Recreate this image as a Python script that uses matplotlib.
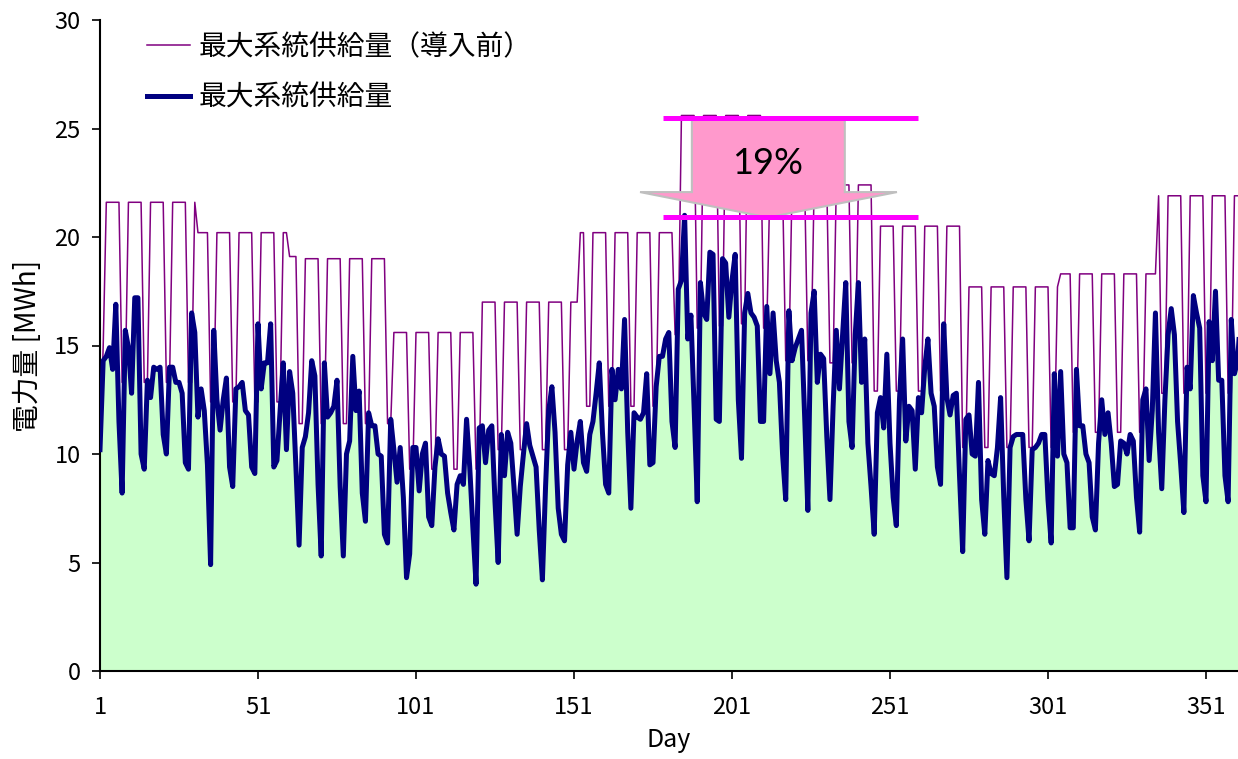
import numpy as np
import matplotlib
matplotlib.use("Agg")
import matplotlib.pyplot as plt
from matplotlib.lines import Line2D
from matplotlib.patches import Polygon

plt.rcParams['font.family'] = ['Noto Sans CJK JP', 'DejaVu Sans']

# Daily values, day 1 .. 362 (MWh)
days = np.arange(1, 363)

# max system supply before introduction (weekday plateau / weekend low)
supply_before = [
    10.3, 14.9, 21.6, 21.6, 21.6, 21.6, 21.6, 13.3, 13.3, 21.6,
    21.6, 21.6, 21.6, 21.6, 13.3, 13.3, 21.6, 21.6, 21.6, 21.6,
    21.6, 13.3, 13.3, 21.6, 21.6, 21.6, 21.6, 21.6, 13.3, 13.3,
    21.6, 20.2, 20.2, 20.2, 20.2, 12.4, 12.4, 20.2, 20.2, 20.2,
    20.2, 20.2, 12.4, 12.4, 20.2, 20.2, 20.2, 20.2, 20.2, 12.4,
    12.4, 20.2, 20.2, 20.2, 20.2, 20.2, 12.4, 12.4, 20.2, 20.2,
    19.1, 19.1, 19.1, 11.4, 11.4, 19.0, 19.0, 19.0, 19.0, 19.0,
    11.4, 11.4, 19.0, 19.0, 19.0, 19.0, 19.0, 11.4, 11.4, 19.0,
    19.0, 19.0, 19.0, 19.0, 11.4, 11.4, 19.0, 19.0, 19.0, 19.0,
    19.0, 11.4, 11.4, 15.6, 15.6, 15.6, 15.6, 15.6, 9.3, 9.3,
    15.6, 15.6, 15.6, 15.6, 15.6, 9.3, 9.3, 15.6, 15.6, 15.6,
    15.6, 15.6, 9.3, 9.3, 15.6, 15.6, 15.6, 15.6, 15.6, 9.3,
    9.3, 17.0, 17.0, 17.0, 17.0, 17.0, 10.2, 10.2, 17.0, 17.0,
    17.0, 17.0, 17.0, 10.2, 10.2, 17.0, 17.0, 17.0, 17.0, 17.0,
    10.2, 10.2, 17.0, 17.0, 17.0, 17.0, 17.0, 10.2, 10.2, 17.0,
    17.0, 17.0, 20.2, 20.2, 12.2, 12.2, 20.2, 20.2, 20.2, 20.2,
    20.2, 12.2, 12.2, 20.2, 20.2, 20.2, 20.2, 20.2, 12.2, 12.2,
    20.2, 20.2, 20.2, 20.2, 20.2, 12.2, 12.2, 20.2, 20.2, 20.2,
    20.2, 20.2, 15.5, 15.5, 25.6, 25.6, 25.6, 25.6, 25.6, 15.8,
    15.8, 25.6, 25.6, 25.6, 25.6, 25.6, 15.9, 15.9, 25.6, 25.6,
    25.6, 25.6, 25.6, 16.0, 16.0, 25.6, 25.6, 25.6, 25.6, 25.6,
    15.8, 15.8, 22.4, 22.4, 22.4, 22.4, 22.4, 14.3, 14.3, 22.4,
    22.4, 22.4, 22.4, 22.4, 14.3, 14.3, 22.4, 22.4, 22.4, 22.4,
    22.4, 14.2, 14.2, 22.4, 22.4, 22.4, 22.4, 22.4, 14.2, 14.2,
    22.4, 22.4, 22.4, 22.4, 22.4, 12.9, 12.9, 20.5, 20.5, 20.5,
    20.5, 20.5, 12.9, 12.9, 20.5, 20.5, 20.5, 20.5, 20.5, 12.9,
    12.9, 20.5, 20.5, 20.5, 20.5, 20.5, 12.9, 12.9, 20.5, 20.5,
    20.5, 20.5, 20.5, 10.3, 10.3, 17.7, 17.7, 17.7, 17.7, 17.7,
    10.3, 10.3, 17.7, 17.7, 17.7, 17.7, 17.7, 10.3, 10.3, 17.7,
    17.7, 17.7, 17.7, 17.7, 10.3, 10.3, 17.7, 17.7, 17.7, 17.7,
    17.7, 10.3, 10.3, 17.7, 18.3, 18.3, 18.3, 18.3, 11.0, 11.0,
    18.3, 18.3, 18.3, 18.3, 18.3, 11.0, 11.0, 18.3, 18.3, 18.3,
    18.3, 18.3, 11.0, 11.0, 18.3, 18.3, 18.3, 18.3, 18.3, 11.0,
    11.0, 18.3, 18.3, 18.3, 18.3, 21.9, 12.8, 12.8, 21.9, 21.9,
    21.9, 21.9, 21.9, 12.8, 12.8, 21.9, 21.9, 21.9, 21.9, 21.9,
    12.8, 12.8, 21.9, 21.9, 21.9, 21.9, 21.9, 12.8, 12.8, 21.9,
    21.9, 21.9,
]

# max system supply after introduction
supply_after = [
    10.2, 14.3, 14.5, 14.9, 13.9, 16.9, 11.5, 8.2, 15.7, 14.9,
    12.8, 17.2, 17.2, 10.0, 9.3, 13.4, 12.6, 14.0, 13.9, 14.0,
    10.9, 10.0, 14.0, 14.0, 13.3, 13.3, 12.8, 9.6, 9.3, 16.5,
    15.6, 11.7, 13.0, 12.0, 9.5, 4.9, 15.7, 12.5, 11.1, 12.5,
    13.5, 9.4, 8.5, 13.0, 13.1, 13.3, 12.0, 11.8, 9.4, 9.1,
    16.0, 13.0, 14.2, 14.2, 16.0, 9.4, 9.7, 12.0, 14.2, 10.2,
    13.8, 12.8, 9.4, 5.8, 10.3, 10.8, 11.9, 14.3, 13.6, 8.6,
    5.3, 14.2, 11.7, 11.9, 12.2, 13.4, 8.5, 5.3, 10.0, 10.6,
    14.5, 12.0, 12.9, 8.2, 6.9, 11.9, 11.3, 11.3, 10.0, 9.9,
    6.3, 5.9, 11.6, 10.2, 8.7, 10.3, 8.0, 4.3, 5.4, 10.3,
    10.3, 8.3, 10.0, 10.5, 7.1, 6.7, 9.4, 10.7, 10.0, 9.9,
    8.2, 7.3, 6.5, 8.6, 9.0, 8.6, 11.6, 9.4, 6.6, 4.0,
    11.2, 11.3, 9.6, 11.1, 11.3, 7.8, 5.0, 10.9, 9.0, 11.0,
    10.5, 8.5, 6.3, 8.5, 10.0, 11.4, 10.4, 9.9, 9.4, 6.5,
    4.2, 8.5, 12.0, 13.1, 11.0, 7.5, 6.3, 6.0, 9.5, 11.0,
    9.3, 10.6, 11.5, 9.6, 9.2, 10.9, 11.5, 12.8, 14.2, 11.0,
    8.6, 8.2, 13.9, 12.5, 13.9, 13.0, 16.2, 11.0, 7.5, 11.9,
    11.7, 11.6, 11.9, 13.7, 9.5, 9.6, 13.1, 14.5, 14.5, 15.3,
    15.6, 11.5, 10.3, 17.6, 18.0, 21.0, 15.3, 16.4, 12.2, 7.8,
    17.9, 16.5, 16.2, 19.3, 19.2, 11.6, 11.5, 19.0, 18.8, 16.3,
    18.0, 19.2, 12.5, 9.8, 16.5, 17.4, 16.5, 16.3, 15.9, 11.5,
    11.5, 16.8, 13.7, 16.5, 14.3, 13.3, 10.0, 7.9, 16.6, 14.3,
    14.9, 15.3, 15.7, 11.7, 7.4, 16.5, 17.5, 13.3, 14.6, 14.4,
    10.8, 7.9, 12.2, 15.7, 13.0, 15.5, 17.9, 11.5, 10.3, 15.5,
    17.9, 13.3, 15.3, 10.5, 8.5, 6.3, 11.9, 12.6, 11.2, 14.6,
    10.5, 8.0, 6.7, 12.5, 15.3, 10.6, 12.2, 12.0, 9.3, 12.6,
    11.9, 14.0, 15.3, 12.8, 12.2, 9.4, 8.6, 16.0, 12.6, 11.8,
    12.7, 12.8, 9.0, 5.5, 11.6, 11.8, 10.0, 9.9, 13.3, 7.9,
    6.3, 9.7, 9.1, 9.0, 10.3, 12.6, 8.0, 4.3, 10.3, 10.8,
    10.9, 10.9, 10.9, 7.9, 6.0, 10.2, 10.3, 10.5, 10.9, 10.9,
    7.9, 5.9, 13.7, 9.9, 13.8, 10.0, 9.6, 6.6, 6.6, 13.9,
    11.3, 11.3, 10.0, 9.6, 7.1, 6.5, 10.5, 12.5, 10.9, 11.9,
    10.5, 8.5, 8.6, 10.6, 10.5, 10.0, 10.9, 10.6, 8.0, 6.4,
    12.5, 13.0, 9.7, 12.0, 16.5, 11.0, 8.4, 12.5, 15.5, 16.7,
    15.5, 11.5, 9.5, 7.3, 14.0, 13.0, 17.3, 16.5, 15.8, 9.0,
    7.8, 16.1, 14.3, 17.5, 13.4, 13.4, 9.0, 7.8, 16.2, 13.7,
    14.3, 16.5,
]

assert len(supply_before) == len(days)
assert len(supply_after) == len(days)

x_ticks = [1, 51, 101, 151, 201, 251, 301, 351]
y_ticks = [0, 5, 10, 15, 20, 25, 30]

label_before = "最大系統供給量（導入前）"
label_after = "最大系統供給量"
reduction_text = "19%"

# annotation: peak before / peak after and the arrow between them
peak_before_level = 25.5
peak_after_level = 20.9

fig = plt.figure(figsize=(12.38, 7.59), dpi=100)
ax = fig.add_axes([100 / 1238, 88 / 759, 1138 / 1238, 651 / 759])

ax.fill_between(days, supply_after, 0, color="#CCFFCC", linewidth=0, zorder=1)
ax.plot(days, supply_before, color="#800080", linewidth=1.1, zorder=3)
ax.plot(days, supply_after, color="#000080", linewidth=3.6,
        solid_joinstyle="round", zorder=4)

# pink arrow showing the reduction
arrow = Polygon(
    [(188.3, peak_before_level), (236.7, peak_before_level),
     (236.7, 22.07), (253.2, 22.07), (212.4, peak_after_level),
     (171.9, 22.07), (188.3, 22.07)],
    closed=True, facecolor="#FF99CC", edgecolor="#BFBFBF",
    linewidth=1.5, zorder=5,
)
ax.add_patch(arrow)
ax.hlines([peak_before_level, peak_after_level], 179.3, 260.0,
          colors="#FF00FF", linewidth=3.6, zorder=6)
ax.text(212.4, 23.4, reduction_text, fontsize=26, family=["Lato"],
        ha="center", va="center", zorder=7)

ax.set_xlim(1, 1 + 1138 / 3.16)
ax.set_ylim(0, 30)
ax.set_xticks(x_ticks)
ax.set_yticks(y_ticks)
ax.tick_params(axis="both", labelsize=17, direction="out", length=6,
               width=1.2, color="black")
ax.tick_params(axis="y", pad=8)
ax.tick_params(axis="x", pad=12)

for side in ["top", "right"]:
    ax.spines[side].set_visible(False)
for side in ["left", "bottom"]:
    ax.spines[side].set_linewidth(1.5)

ax.set_xlabel("Day", fontsize=18, labelpad=6)
ax.set_ylabel("電力量 [MWh]", fontsize=20, labelpad=8)

handles = [
    Line2D([], [], color="#800080", linewidth=1.1),
    Line2D([], [], color="#000080", linewidth=3.6),
]
ax.legend(handles, [label_before, label_after], loc="upper left",
          bbox_to_anchor=(147 / 1238, 1 - 32 / 759),
          bbox_transform=fig.transFigure, frameon=False, fontsize=20,
          handlelength=1.55, handletextpad=0.3, labelspacing=0.75,
          borderpad=0, borderaxespad=0)

fig.savefig("out.png", dpi=100)
